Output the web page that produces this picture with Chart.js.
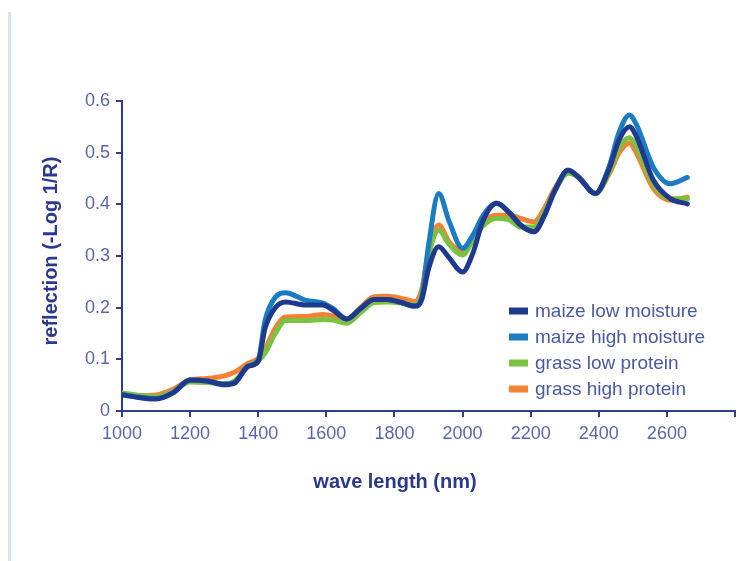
<!DOCTYPE html>
<html>
<head>
<meta charset="utf-8">
<title>NIR reflection spectra</title>
<script src="https://cdn.jsdelivr.net/npm/chart.js@4/dist/chart.umd.min.js"></script>
<style>
  html, body { margin: 0; padding: 0; background: #fff; }
  #wrap { position: relative; width: 748px; height: 561px; }
  #edge { position: absolute; left: 8px; top: 12px; bottom: 0; width: 3px; background: #d6e5f0; }
</style>
</head>
<body>
<div id="wrap">
  <div id="edge"></div>
  <canvas id="spec" width="748" height="561"></canvas>
</div>
<script>
/* wavelength (nm) and -log(1/R) */
const waveLengths = [1000, 1050, 1100, 1150, 1200, 1250, 1300, 1330, 1370, 1400,
  1420, 1450, 1480, 1540, 1590, 1620, 1660, 1700, 1740, 1780,
  1820, 1860, 1880, 1900, 1930, 1960, 2000, 2030, 2060, 2100,
  2140, 2170, 2210, 2240, 2270, 2310, 2340, 2390, 2430, 2460,
  2490, 2510, 2560, 2610, 2660];

const maizeLowMoisture = [0.031, 0.026, 0.023, 0.035, 0.060, 0.058, 0.051, 0.054, 0.086, 0.096,
  0.160, 0.200, 0.211, 0.205, 0.205, 0.195, 0.178, 0.198, 0.216, 0.216,
  0.210, 0.203, 0.215, 0.275, 0.318, 0.297, 0.269, 0.305, 0.368, 0.402,
  0.382, 0.360, 0.347, 0.378, 0.425, 0.466, 0.453, 0.421, 0.468, 0.525,
  0.550, 0.532, 0.447, 0.411, 0.401];

const maizeHighMoisture = [0.032, 0.027, 0.024, 0.036, 0.060, 0.058, 0.052, 0.055, 0.087, 0.098,
  0.175, 0.220, 0.229, 0.214, 0.209, 0.198, 0.178, 0.198, 0.216, 0.216,
  0.210, 0.203, 0.220, 0.320, 0.421, 0.368, 0.315, 0.340, 0.378, 0.402,
  0.382, 0.360, 0.347, 0.378, 0.425, 0.466, 0.453, 0.421, 0.472, 0.540,
  0.573, 0.555, 0.472, 0.440, 0.452];

const grassLowProtein = [0.035, 0.030, 0.028, 0.038, 0.056, 0.055, 0.053, 0.058, 0.086, 0.097,
  0.112, 0.150, 0.175, 0.175, 0.177, 0.176, 0.170, 0.190, 0.210, 0.211,
  0.209, 0.205, 0.225, 0.300, 0.350, 0.323, 0.302, 0.330, 0.358, 0.373,
  0.369, 0.356, 0.356, 0.385, 0.425, 0.460, 0.453, 0.421, 0.462, 0.510,
  0.529, 0.512, 0.440, 0.411, 0.411];

const grassHighProtein = [0.033, 0.030, 0.031, 0.042, 0.060, 0.063, 0.068, 0.075, 0.092, 0.102,
  0.120, 0.160, 0.182, 0.183, 0.187, 0.184, 0.176, 0.200, 0.221, 0.222,
  0.218, 0.212, 0.235, 0.310, 0.360, 0.328, 0.308, 0.335, 0.365, 0.379,
  0.379, 0.373, 0.366, 0.392, 0.430, 0.462, 0.452, 0.421, 0.458, 0.500,
  0.518, 0.500, 0.431, 0.408, 0.414];

const seriesNames  = ['maize low moisture', 'maize high moisture', 'grass low protein', 'grass high protein'];
const seriesValues = [maizeLowMoisture, maizeHighMoisture, grassLowProtein, grassHighProtein];
const seriesColors = ['#1f3a8d', '#1b7cc1', '#7cc242', '#f58234'];

const X_TITLE = 'wave length (nm)';
const Y_TITLE = 'reflection (-Log 1/R)';

const AXIS_COLOR  = '#2e3d8f';
const TICK_COLOR  = '#5a66aa';
const TITLE_COLOR = '#2b398c';
const FONT = 'Liberation Sans, Arial, sans-serif';

/* titles use a narrow bold face when there is one */
function hasFont(name) {
  const c = document.createElement('canvas').getContext('2d');
  c.font = 'bold 40px monospace';
  const base = c.measureText(X_TITLE).width;
  c.font = `bold 40px "${name}", monospace`;
  return c.measureText(X_TITLE).width !== base;
}
const TITLE_FONT = hasFont('Liberation Sans Narrow')
  ? 'bold 24px "Liberation Sans Narrow"'
  : 'bold 20px ' + FONT;

/* legend inside the plot, lower right, and both axis titles */
const extras = {
  id: 'extras',
  afterDraw(chart) {
    const { ctx, chartArea } = chart;
    const x0 = chartArea.left + 387;
    const y0 = 311;
    const rowH = 26;
    ctx.save();
    ctx.font = '19px ' + FONT;
    ctx.textBaseline = 'middle';
    ctx.textAlign = 'left';
    seriesNames.forEach((name, i) => {
      const y = y0 + i * rowH;
      ctx.fillStyle = seriesColors[i];
      ctx.fillRect(x0, y - 3.5, 19, 7);
      ctx.fillStyle = '#4b58a3';
      ctx.fillText(name, x0 + 26, y + 1);
    });

    ctx.font = TITLE_FONT;
    ctx.fillStyle = TITLE_COLOR;
    ctx.textAlign = 'center';
    ctx.textBaseline = 'alphabetic';
    ctx.fillText(X_TITLE, 395, 488);

    ctx.translate(57, 251);
    ctx.rotate(-Math.PI / 2);
    ctx.fillText(Y_TITLE, 0, 0);
    ctx.restore();
  }
};

const datasets = seriesNames.map((name, i) => ({
  label: name,
  data: waveLengths.map((w, j) => ({ x: w, y: seriesValues[i][j] })),
  borderColor: seriesColors[i],
  backgroundColor: seriesColors[i],
  borderWidth: 5,
  borderCapStyle: 'round',
  borderJoinStyle: 'round',
  cubicInterpolationMode: 'monotone',
  pointRadius: 0,
  fill: false,
}));

new Chart(document.getElementById('spec').getContext('2d'), {
  type: 'line',
  data: { datasets },
  plugins: [extras],
  options: {
    responsive: false,
    animation: false,
    layout: { padding: { top: 101, right: 13, left: 0, bottom: 0 } },
    plugins: { legend: { display: false }, tooltip: { enabled: false } },
    scales: {
      x: {
        type: 'linear',
        min: 1000,
        max: 2800,
        afterFit: s => { s.height = 150; },
        border: { display: true, color: AXIS_COLOR, width: 2 },
        grid: { drawOnChartArea: false, drawTicks: true, tickLength: 6, color: AXIS_COLOR, lineWidth: 2 },
        ticks: {
          stepSize: 200,
          maxRotation: 0,
          autoSkip: false,
          padding: 6,
          color: TICK_COLOR,
          font: { family: FONT, size: 18 },
          callback: v => (v === 2800 ? '' : String(v)),
        },
      },
      y: {
        min: 0,
        max: 0.6,
        afterFit: s => { s.width = 122; },
        border: { display: true, color: AXIS_COLOR, width: 2 },
        grid: { drawOnChartArea: false, drawTicks: true, tickLength: 6, color: AXIS_COLOR, lineWidth: 2 },
        ticks: {
          stepSize: 0.1,
          padding: 6,
          color: TICK_COLOR,
          font: { family: FONT, size: 18 },
          callback: v => (v === 0 ? '0' : v.toFixed(1)),
        },
      },
    },
  },
});
</script>
</body>
</html>
